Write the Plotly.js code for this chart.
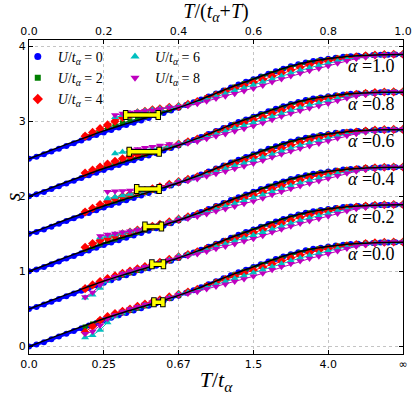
<!DOCTYPE html>
<html>
<head>
<meta charset="utf-8">
<script src="https://cdn.plot.ly/plotly-3.0.1.min.js"></script>
<style>
  html, body { margin: 0; padding: 0; background: #fff; }
  #plot { width: 415px; height: 395px; }
</style>
</head>
<body>
<div id="plot"></div>
<script>
// curves are stacked: each alpha is drawn shifted up by curveShift
const alphas = [0.0, 0.2, 0.4, 0.6, 0.8, 1.0];
const alphaLabels = ["0.0", "0.2", "0.4", "0.6", "0.8", "1.0"];
const curveShift = [0.0, 0.5, 1.0, 1.5, 2.0, 2.5];

// x is u = T/(t_a+T)
const topTickVals = [0, 0.2, 0.4, 0.6, 0.8, 1.0];
const topTickText = ["0.0", "0.2", "0.4", "0.6", "0.8", "1.0"];
const bottomTickText = ["0.0", "0.25", "0.67", "1.5", "4.0", "\u221e"];
const yTickVals = [0, 1, 2, 3, 4];

// black reference curve
const uLine = [0, 0.05, 0.1, 0.15, 0.2, 0.25, 0.3, 0.35, 0.4, 0.45, 0.5,
  0.55, 0.6, 0.65, 0.7, 0.75, 0.8, 0.85, 0.9, 0.95, 1.0];
const sLine = [0, 0.095, 0.19, 0.28, 0.37, 0.45, 0.525, 0.6, 0.68, 0.77, 0.87,
  0.97, 1.06, 1.15, 1.23, 1.29, 1.33, 1.36, 1.375, 1.384, 1.386];

// U/t = 0
const uBlue = [0, 0.02, 0.04, 0.06, 0.08, 0.1, 0.12, 0.14, 0.16, 0.18, 0.2,
  0.22, 0.24, 0.26, 0.28, 0.3, 0.32, 0.34, 0.36, 0.38, 0.4,
  0.42, 0.44, 0.46, 0.48, 0.5, 0.52, 0.54, 0.56, 0.58, 0.6,
  0.62, 0.64, 0.66, 0.68, 0.7, 0.72, 0.74, 0.76, 0.78, 0.8,
  0.82, 0.84, 0.86, 0.88, 0.9, 0.92, 0.94, 0.96, 0.98, 1.0];
const sBlue = [0, 0.025, 0.058, 0.095, 0.133, 0.17, 0.206, 0.242, 0.278, 0.314, 0.35,
  0.383, 0.415, 0.447, 0.478, 0.51, 0.542, 0.574, 0.608, 0.642, 0.677,
  0.714, 0.75, 0.789, 0.829, 0.869, 0.909, 0.949, 0.987, 1.023, 1.059,
  1.095, 1.131, 1.165, 1.197, 1.229, 1.256, 1.28, 1.3, 1.316, 1.33,
  1.344, 1.356, 1.363, 1.369, 1.375, 1.379, 1.383, 1.385, 1.386, 1.386];

// interacting runs: low-T part differs per alpha, high-T part is common
const uLow = [0.15, 0.17, 0.19, 0.21, 0.23, 0.25, 0.27, 0.29, 0.31, 0.33, 0.35, 0.375];
const uHigh = [0.4, 0.425, 0.45, 0.475, 0.5, 0.525, 0.55, 0.575, 0.6, 0.625, 0.65, 0.675,
  0.7, 0.725, 0.75, 0.775, 0.8, 0.825, 0.85, 0.875, 0.9, 0.925, 0.95, 0.975, 1.0];

const sLowU2 = [
  [0.26, 0.30, 0.345, 0.383, 0.417, 0.45, 0.48, 0.51, 0.54, 0.57, 0.60, 0.64],
  [0.27, 0.31, 0.35, 0.386, 0.42, 0.452, 0.482, 0.512, 0.542, 0.572, 0.602, 0.642],
  [0.29, 0.33, 0.365, 0.40, 0.43, 0.46, 0.49, 0.52, 0.55, 0.578, 0.606, 0.645],
  [0.29, 0.33, 0.37, 0.405, 0.435, 0.465, 0.495, 0.523, 0.552, 0.58, 0.608, 0.646],
  [0.30, 0.34, 0.375, 0.41, 0.44, 0.47, 0.50, 0.527, 0.555, 0.582, 0.61, 0.648],
  [0.30, 0.34, 0.38, 0.415, 0.447, 0.477, 0.505, 0.532, 0.56, 0.586, 0.613, 0.65],
];
const sHighU2 = [0.68, 0.72, 0.76, 0.81, 0.858, 0.905, 0.955, 1.0, 1.045, 1.09, 1.135, 1.175,
  1.215, 1.247, 1.278, 1.302, 1.32, 1.339, 1.355, 1.363, 1.375, 1.38, 1.384, 1.386, 1.386];

const sLowU4 = [
  [0.19, 0.27, 0.35, 0.40, 0.44, 0.47, 0.50, 0.535, 0.565, 0.59, 0.62, 0.66],
  [0.27, 0.32, 0.365, 0.405, 0.44, 0.475, 0.505, 0.535, 0.565, 0.59, 0.62, 0.66],
  [0.32, 0.37, 0.41, 0.445, 0.475, 0.50, 0.525, 0.55, 0.575, 0.60, 0.625, 0.66],
  [0.29, 0.34, 0.39, 0.43, 0.47, 0.50, 0.525, 0.55, 0.575, 0.60, 0.625, 0.66],
  [0.31, 0.35, 0.39, 0.43, 0.465, 0.50, 0.53, 0.555, 0.58, 0.605, 0.63, 0.665],
  [0.30, 0.35, 0.40, 0.45, 0.50, 0.55, 0.585, 0.61, 0.63, 0.65, 0.665, 0.685],
];
const sHighU4 = [0.695, 0.725, 0.76, 0.80, 0.845, 0.89, 0.935, 0.975, 1.015, 1.055, 1.10, 1.14,
  1.18, 1.217, 1.25, 1.277, 1.30, 1.322, 1.34, 1.356, 1.369, 1.38, 1.387, 1.39, 1.39];

const sLowU6 = [
  [0.12, 0.15, 0.22, 0.32, 0.40, 0.45, 0.49, 0.52, 0.55, 0.58, 0.61, 0.65],
  [0.15, 0.19, 0.28, 0.37, 0.42, 0.46, 0.49, 0.52, 0.55, 0.58, 0.61, 0.65],
  [null, null, 0.45, 0.47, 0.49, 0.51, 0.53, 0.55, 0.57, 0.595, 0.62, 0.655],
  [null, null, null, 0.47, 0.49, 0.51, 0.53, 0.55, 0.57, 0.59, 0.615, 0.65],
  [null, null, null, null, 0.57, 0.59, 0.60, 0.61, 0.62, 0.63, 0.645, 0.67],
  [null, null, null, null, 0.55, 0.58, 0.60, 0.62, 0.635, 0.65, 0.665, 0.685],
];
const sHighU6 = [0.70, 0.72, 0.75, 0.785, 0.825, 0.865, 0.905, 0.94, 0.98, 1.02, 1.06, 1.10,
  1.14, 1.177, 1.21, 1.242, 1.27, 1.302, 1.325, 1.343, 1.36, 1.372, 1.384, 1.389, 1.39];

const sLowU8 = [
  [0.17, 0.20, 0.28, 0.37, 0.42, 0.465, 0.50, 0.53, 0.56, 0.59, 0.615, 0.65],
  [0.16, 0.22, 0.32, 0.39, 0.43, 0.47, 0.50, 0.53, 0.56, 0.59, 0.615, 0.65],
  [null, null, 0.47, 0.49, 0.505, 0.52, 0.535, 0.55, 0.57, 0.59, 0.615, 0.65],
  [null, null, null, 0.56, 0.565, 0.57, 0.575, 0.58, 0.59, 0.60, 0.615, 0.645],
  [null, null, null, null, null, null, 0.615, 0.63, 0.645, 0.66, 0.675, 0.695],
  [null, null, null, null, 0.58, 0.60, 0.615, 0.625, 0.635, 0.645, 0.66, 0.68],
];
const sHighU8 = [0.69, 0.705, 0.73, 0.765, 0.80, 0.83, 0.865, 0.90, 0.935, 0.975, 1.02, 1.06,
  1.10, 1.137, 1.17, 1.202, 1.235, 1.272, 1.305, 1.333, 1.355, 1.37, 1.384, 1.39, 1.391];

// yellow horizontal error bars, one per alpha
const errU = [0.346, 0.344, 0.332, 0.318, 0.308, 0.302];
const errHalf = [0.012, 0.0155, 0.022, 0.030, 0.040, 0.0435];
const errS = [0.59, 0.596, 0.596, 0.597, 0.593, 0.581];

const serif = "Liberation Serif, DejaVu Serif, serif";
const sans = "DejaVu Sans, sans-serif";

const seriesStyle = [
  { label: "0", color: "#0000ff", symbol: "circle", size: 6, legend: "legend" },
  { label: "2", color: "#007f00", symbol: "square", size: 5, legend: "legend" },
  { label: "4", color: "#ff0000", symbol: "diamond", size: 7, legend: "legend" },
  { label: "6", color: "#00bfbf", symbol: "triangle-up", size: 7, legend: "legend2" },
  { label: "8", color: "#bf00bf", symbol: "triangle-down", size: 7, legend: "legend2" },
];

function stackedSeries(low, high) {
  const x = [];
  const y = [];
  alphas.forEach((a, k) => {
    low[k].forEach((v, i) => {
      x.push(uLow[i]);
      y.push(v === null ? null : v + curveShift[k]);
    });
    high.forEach((v, i) => {
      x.push(uHigh[i]);
      y.push(v + curveShift[k]);
    });
    x.push(null);
    y.push(null);
  });
  return { x, y };
}

function stackedSimple(us, ss) {
  const x = [];
  const y = [];
  alphas.forEach((a, k) => {
    us.forEach((u, i) => {
      x.push(u);
      y.push(ss[i] + curveShift[k]);
    });
    x.push(null);
    y.push(null);
  });
  return { x, y };
}

const traces = [];

const dataSets = [
  stackedSimple(uBlue, sBlue),
  stackedSeries(sLowU2, sHighU2),
  stackedSeries(sLowU4, sHighU4),
  stackedSeries(sLowU6, sHighU6),
  stackedSeries(sLowU8, sHighU8),
];

dataSets.forEach((d, idx) => {
  const st = seriesStyle[idx];
  traces.push({
    x: d.x,
    y: d.y,
    type: "scatter",
    mode: "lines+markers",
    showlegend: false,
    hoverinfo: "skip",
    line: { color: st.color, width: idx === 0 ? 3 : 1 },
    marker: { color: st.color, symbol: st.symbol, size: st.size, line: { width: 0 } },
  });
});

const black = stackedSimple(uLine, sLine);
traces.push({
  x: black.x,
  y: black.y,
  type: "scatter",
  mode: "lines",
  showlegend: false,
  hoverinfo: "skip",
  line: { color: "#000000", width: 1.5, shape: "spline" },
});

const errY = errS.map((s, k) => s + curveShift[k]);
traces.push({
  x: errU,
  y: errY,
  type: "scatter",
  mode: "markers",
  showlegend: false,
  hoverinfo: "skip",
  marker: { size: 1, color: "rgba(0,0,0,0)" },
  error_x: { type: "data", array: errHalf, color: "#000000", thickness: 5.5, width: 5 },
});
traces.push({
  x: errU,
  y: errY,
  type: "scatter",
  mode: "markers",
  showlegend: false,
  hoverinfo: "skip",
  marker: { size: 1, color: "rgba(0,0,0,0)" },
  error_x: { type: "data", array: errHalf, color: "#ffff00", thickness: 3.5, width: 4 },
});

// legend-only entries (marker, no line)
seriesStyle.forEach((st) => {
  traces.push({
    x: [null],
    y: [null],
    type: "scatter",
    mode: "markers",
    name: `<i>U</i>/<i>t</i><sub><i>\u03b1</i></sub> = ${st.label}`,
    legend: st.legend,
    marker: { color: st.color, symbol: st.symbol, size: st.size + 1 },
  });
});

const annotations = alphas.map((a, k) => ({
  x: 0.915,
  y: 1.23 + curveShift[k],
  xref: "x",
  yref: "y",
  showarrow: false,
  text: `<i>\u03b1</i> =${alphaLabels[k]}`,
  font: { family: serif, size: 18, color: "#000" },
}));

const gridStyle = { gridcolor: "#c4c4c4", griddash: "dot", gridwidth: 1 };

const layout = {
  width: 415,
  height: 395,
  paper_bgcolor: "#ffffff",
  plot_bgcolor: "#ffffff",
  margin: { l: 29, r: 12, t: 40, b: 41 },
  showlegend: true,
  xaxis: {
    range: [0, 1],
    tickvals: topTickVals,
    ticktext: bottomTickText,
    ticks: "inside",
    ticklen: 4,
    tickcolor: "#000",
    showline: true,
    linecolor: "#000",
    linewidth: 1,
    mirror: true,
    zeroline: false,
    showgrid: true,
    ...gridStyle,
    tickfont: { family: sans, size: 11, color: "#000" },
    title: { text: "<i>T</i>/<i>t</i><sub><i>\u03b1</i></sub>", font: { family: serif, size: 22, color: "#000" }, standoff: 3 },
  },
  xaxis2: {
    overlaying: "x",
    side: "top",
    range: [0, 1],
    tickvals: topTickVals,
    ticktext: topTickText,
    ticks: "inside",
    ticklen: 4,
    tickcolor: "#000",
    showline: true,
    linecolor: "#000",
    zeroline: false,
    showgrid: false,
    tickfont: { family: sans, size: 11, color: "#000" },
    title: { text: "<i>T</i>/(<i>t</i><sub><i>\u03b1</i></sub>+<i>T</i>)", font: { family: serif, size: 20, color: "#000" }, standoff: 2 },
  },
  yaxis: {
    range: [-0.1, 4.08],
    tickvals: yTickVals,
    ticks: "inside",
    ticklen: 4,
    tickcolor: "#000",
    showline: true,
    linecolor: "#000",
    mirror: "ticks",
    zeroline: false,
    showgrid: true,
    ...gridStyle,
    tickfont: { family: sans, size: 11, color: "#000" },
    title: { text: "<i>s</i>", font: { family: serif, size: 22, color: "#000" }, standoff: 1 },
  },
  legend: {
    x: -0.03,
    xanchor: "left",
    y: 0.997,
    yanchor: "top",
    bgcolor: "rgba(0,0,0,0)",
    borderwidth: 0,
    itemwidth: 30,
    tracegroupgap: 0,
    font: { family: serif, size: 14, color: "#000" },
  },
  legend2: {
    x: 0.23,
    xanchor: "left",
    y: 0.997,
    yanchor: "top",
    bgcolor: "rgba(0,0,0,0)",
    borderwidth: 0,
    itemwidth: 30,
    tracegroupgap: 0,
    font: { family: serif, size: 14, color: "#000" },
  },
  annotations,
};

// dummy trace so xaxis2 gets drawn
traces.push({ x: [null], y: [null], xaxis: "x2", type: "scatter", mode: "markers", showlegend: false, hoverinfo: "skip" });

Plotly.newPlot("plot", traces, layout, { displayModeBar: false, staticPlot: true });
</script>
</body>
</html>
